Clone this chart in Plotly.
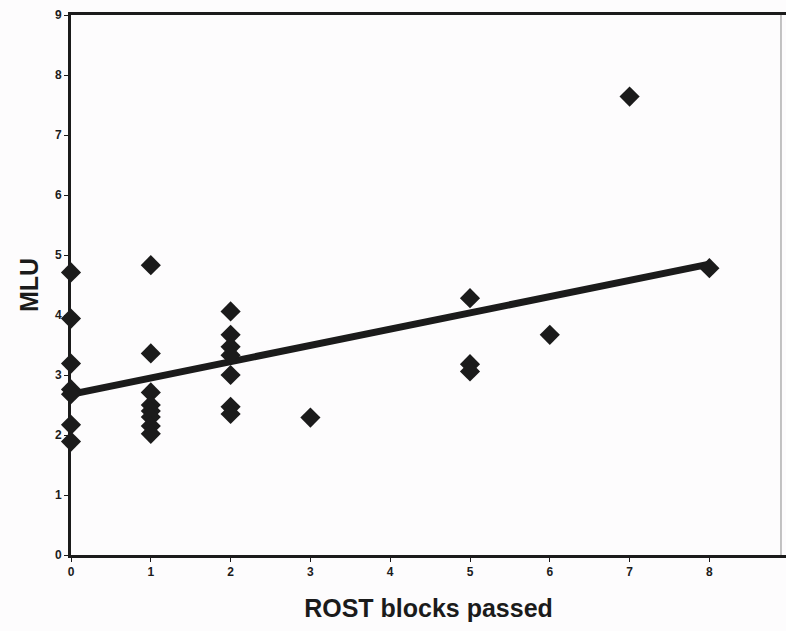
import plotly.graph_objects as go

# ROST blocks passed (x) and MLU (y)
rost_blocks = [0, 0, 0, 0, 0, 0, 0,
               1, 1, 1, 1, 1, 1, 1, 1,
               2, 2, 2, 2, 2, 2, 2,
               3,
               5, 5, 5,
               6, 7, 8]
mlu = [4.71, 3.94, 3.19, 2.76, 2.68, 2.17, 1.89,
       4.83, 3.36, 2.71, 2.50, 2.40, 2.30, 2.15, 2.02,
       4.06, 3.67, 3.47, 3.33, 3.00, 2.47, 2.35,
       2.29,
       4.28, 3.18, 3.06,
       3.67, 7.64, 4.78]

# linear trend line
trend_intercept = 2.68
trend_slope = 0.271
trend_x = [0, 8]
trend_y = [trend_intercept + trend_slope * v for v in trend_x]

x_ticks = [0, 1, 2, 3, 4, 5, 6, 7, 8, 9]
y_ticks = [0, 1, 2, 3, 4, 5, 6, 7, 8, 9]

ink = "#1b1b1b"

fig = go.Figure()
fig.add_trace(go.Scatter(
    x=trend_x, y=trend_y, mode="lines",
    line=dict(color=ink, width=7), showlegend=False, hoverinfo="skip"))
fig.add_trace(go.Scatter(
    x=rost_blocks, y=mlu, mode="markers",
    marker=dict(symbol="diamond", size=15.5, color=ink, line=dict(width=0)),
    cliponaxis=False, showlegend=False))

fig.update_layout(
    width=786, height=631,
    margin=dict(l=71, r=0, t=15, b=76),
    paper_bgcolor="#fdfcfd", plot_bgcolor="#fdfcfd",
    font=dict(family="Liberation Sans, Arial, sans-serif", color=ink),
)
fig.update_xaxes(
    range=[0, 8.96], tickmode="array", tickvals=x_ticks,
    ticktext=[f"<b>{t}</b>" for t in x_ticks],
    tickfont=dict(size=12, color=ink),
    showgrid=False, zeroline=False,
    showline=True, linecolor=ink, linewidth=3, mirror=True,
    ticks="outside", ticklen=4, tickwidth=1, tickcolor=ink,
    layer="below traces",
    title=dict(text="<b>ROST blocks passed</b>", font=dict(size=25, color=ink), standoff=22),
)
fig.update_yaxes(
    range=[0, 9], tickmode="array", tickvals=y_ticks,
    ticktext=[f"<b>{t}</b>" for t in y_ticks],
    tickfont=dict(size=12, color=ink),
    showgrid=False, zeroline=False,
    showline=True, linecolor=ink, linewidth=3,
    ticks="outside", ticklen=4, tickwidth=1, tickcolor=ink,
    layer="below traces",
    title=dict(text="<b>MLU</b>", font=dict(size=25, color=ink), standoff=10),
)
# thin right border
fig.add_shape(type="line", xref="paper", yref="paper", x0=0.993, x1=0.993, y0=0, y1=1,
              line=dict(color="#888888", width=1))

fig.write_html("out.html")
